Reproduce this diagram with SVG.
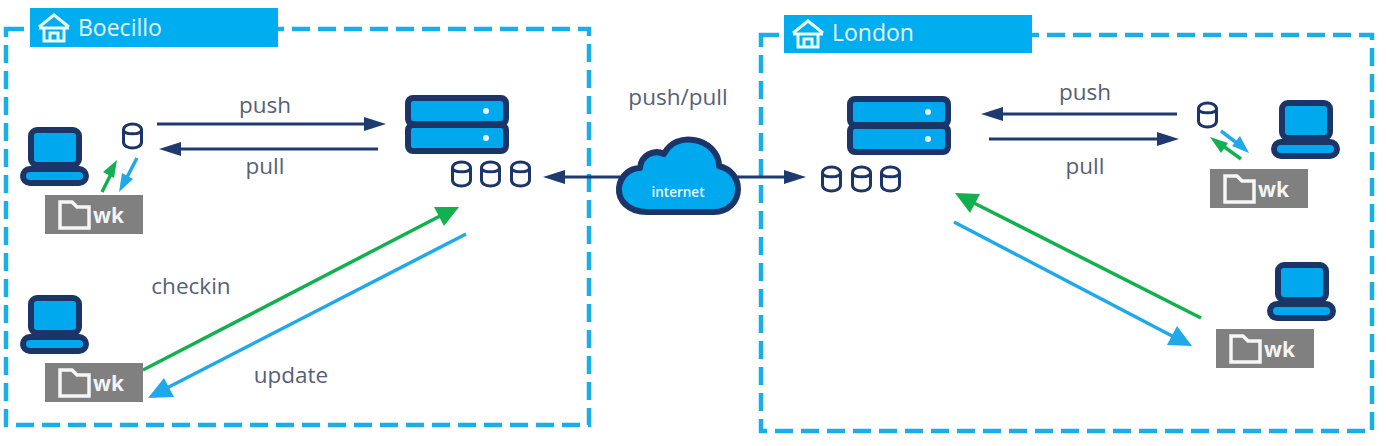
<svg xmlns="http://www.w3.org/2000/svg" width="1386" height="446" viewBox="0 0 1386 446">
<style>
text{font-family:"Open Sans","Liberation Sans",sans-serif}
.lb{font-size:22.500px;fill:#566078}
.zone{fill:none;stroke:#1aaee8;stroke-width:4.500;stroke-dasharray:18 8}
.bar{fill:#00adef}
.bt{font-size:23px;fill:#e8f8ff}
.d{fill:#00a8ee;stroke:#1c3569;stroke-width:6;stroke-linejoin:round}
.dr{fill:#fff;stroke:#1c3569;stroke-width:3}
.wb{fill:#808080}
.wt{font-size:21px;font-weight:700;fill:#f4f4f4}
.fo{fill:none;stroke:#f6f6f6;stroke-width:3.500}
.n{stroke:#1f3a6e;stroke-width:3;fill:none}
.g{stroke:#12b04f;stroke-width:3.500;fill:none}
.c{stroke:#1fa9ea;stroke-width:3.500;fill:none}
.hn{fill:#1f3a6e}.hg{fill:#12b04f}.hc{fill:#1fa9ea}
</style>
<defs>
<symbol id="laptop" overflow="visible"><rect class="d" x="11" y="3" width="48" height="35" rx="6"/><rect class="d" x="3" y="42" width="63" height="14" rx="7"/></symbol>
<symbol id="drum" overflow="visible"><path class="dr" d="M1.500 7C1.500 -1 19.500 -1 19.500 7V19C19.500 27 1.500 27 1.500 19Z"/><path class="dr" d="M1.500 7C1.500 12 19.500 12 19.500 7" fill="none"/></symbol>
<symbol id="wk" overflow="visible"><rect class="wb" width="98" height="39"/><path class="fo" d="M15 7H27L32 12H44V33H15Z"/><text class="wt" x="48" y="28">wk</text></symbol>
<symbol id="house" overflow="visible"><path fill="none" stroke="#eaf9ff" stroke-width="3" d="M1 15L16 3L31 15M1 16H31M6 16V29H26V16M12 29V21H20V29"/></symbol>
<symbol id="srv" overflow="visible"><rect class="d" x="3" y="3" width="98" height="26" rx="5"/><rect class="d" x="3" y="30" width="98" height="26" rx="5"/><circle cx="81" cy="16" r="3" fill="#e8f8ff"/><circle cx="81" cy="43" r="3" fill="#e8f8ff"/></symbol>
</defs>
<g id="boecillo"><rect class="zone" x="6" y="29" width="583" height="396"/><rect class="bar" x="30" y="8" width="248" height="39"/><use href="#house" x="38" y="12"/><text class="bt" x="78" y="36">Boecillo</text></g>
<g id="london"><rect class="zone" x="761" y="35" width="611" height="396"/><rect class="bar" x="784" y="15" width="248" height="38"/><use href="#house" x="792" y="18"/><text class="bt" x="832" y="41">London</text></g>
<g id="connectors">
<path class="n" d="M157 124H372"/><path class="hn" d="M386 124L364 117V131Z"/>
<path class="n" d="M378 149H173"/><path class="hn" d="M159 149L181 142V156Z"/>
<path class="n" d="M1177 114H996"/><path class="hn" d="M981 114L1003 107V121Z"/>
<path class="n" d="M989 139H1165"/><path class="hn" d="M1179 139L1157 132V146Z"/>
<path class="n" d="M620 177H558"/><path class="hn" d="M543 177L565 170V184Z"/>
<path class="n" d="M737 177H792"/><path class="hn" d="M806 177L784 170V184Z"/>
<path class="g" d="M102 192L113 170"/><path class="hg" d="M117 160L114 178L103 172Z"/>
<path class="c" d="M137 158L125 181"/><path class="hc" d="M119 192L122 173L133 179Z"/>
<path class="c" d="M1221 131L1242 147"/><path class="hc" d="M1249 153L1232 146L1240 136Z"/>
<path class="g" d="M1241 159L1219 143"/><path class="hg" d="M1210 137L1228 143L1221 153Z"/>
<path class="g" d="M143 370L442 215"/><path class="hg" d="M459 207L444 226L434 207Z"/>
<path class="c" d="M466 234L163 390"/><path class="hc" d="M148 398L164 378L174 397Z"/>
<path class="g" d="M1201 318L972 202"/><path class="hg" d="M955 193L980 194L970 213Z"/>
<path class="c" d="M954 222L1176 338"/><path class="hc" d="M1192 346L1167 345L1177 326Z"/>
</g>
<g id="laptop-b1"><use href="#laptop" x="20" y="127"/></g>
<g id="laptop-b2"><use href="#laptop" x="20" y="295"/></g>
<g id="laptop-l1"><use href="#laptop" x="1271" y="100"/></g>
<g id="laptop-l2"><use href="#laptop" x="1267" y="262"/></g>
<g id="repo-b"><use href="#drum" x="122" y="123"/></g>
<g id="repo-l"><use href="#drum" x="1197" y="102"/></g>
<g id="wk-b1"><use href="#wk" x="45" y="195"/></g>
<g id="wk-b2"><use href="#wk" x="45" y="363"/></g>
<g id="wk-l1"><use href="#wk" x="1210" y="169"/></g>
<g id="wk-l2"><use href="#wk" x="1216" y="329"/></g>
<g id="server-b"><use href="#srv" x="405" y="95"/><use href="#drum" x="451" y="161"/><use href="#drum" x="480" y="161"/><use href="#drum" x="510" y="161"/></g>
<g id="server-l"><use href="#srv" x="847" y="96"/><use href="#drum" x="821" y="166"/><use href="#drum" x="851" y="166"/><use href="#drum" x="880" y="166"/></g>
<g id="cloud"><path d="M647 212C628 212 618 200 619 188C620 176 630 168 640 168C641 155 654 149 664 154C670 142 682 138 694 140C708 142 719 153 719 166C731 169 738 178 738 189C738 202 728 212 714 212Z" fill="#00a8ee" stroke="#1c3569" stroke-width="6" stroke-linejoin="round"/><text x="678" y="197" text-anchor="middle" font-size="13.500" font-weight="600" fill="#e8f8ff">internet</text></g>
<g id="labels">
<text class="lb" x="265" y="113" text-anchor="middle">push</text>
<text class="lb" x="265" y="174" text-anchor="middle">pull</text>
<text class="lb" x="191" y="294" text-anchor="middle">checkin</text>
<text class="lb" x="291" y="383" text-anchor="middle">update</text>
<text class="lb" x="678" y="105" text-anchor="middle">push/pull</text>
<text class="lb" x="1085" y="100" text-anchor="middle">push</text>
<text class="lb" x="1085" y="174" text-anchor="middle">pull</text>
</g>
</svg>
